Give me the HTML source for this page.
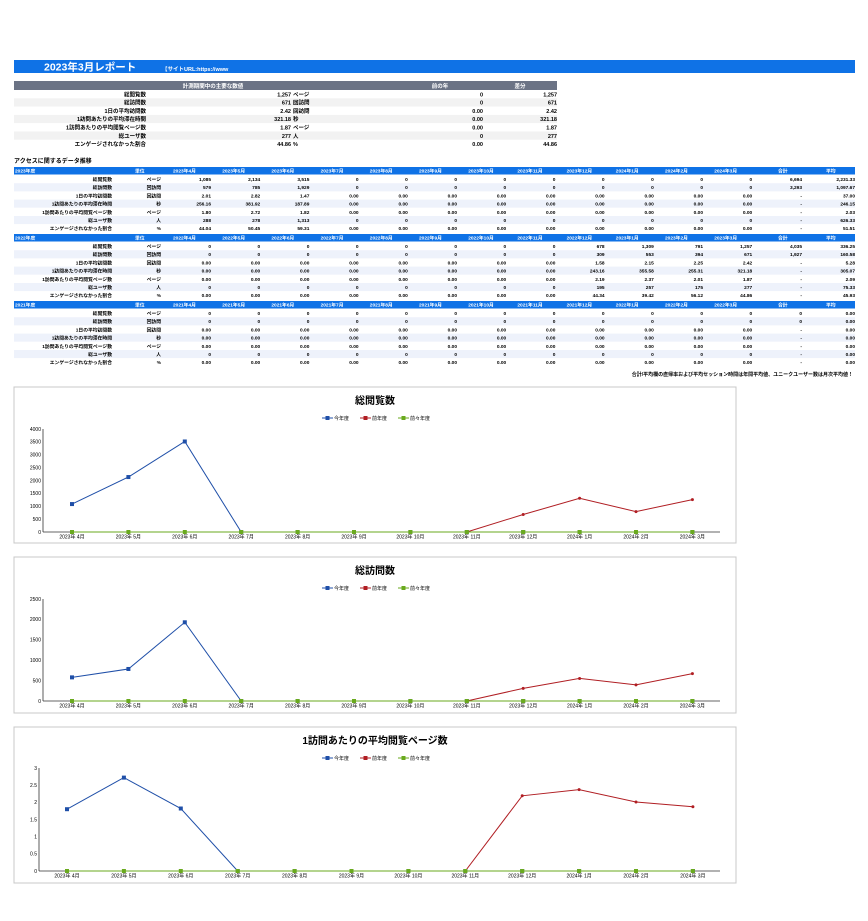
<!DOCTYPE html>
<html><head><meta charset="utf-8">
<style>
html,body{margin:0;padding:0;background:#fff;}
svg{display:block;font-family:"Liberation Sans","Noto Sans CJK JP",sans-serif;}
</style></head>
<body>
<svg id="root" width="868" height="921" viewBox="0 0 868 921" xmlns="http://www.w3.org/2000/svg">
  <rect x="14" y="60" width="841" height="13" fill="#0f72e6"/>
  <text x="44" y="70.5" font-size="10.5" font-weight="bold" fill="#fff">2023年3月レポート</text>
  <text x="162" y="71" font-size="5.5" font-weight="bold" fill="#fff">【サイトURL:https://www</text>
  <g id="summary"></g>
  <text x="14" y="163" font-size="6" font-weight="bold" fill="#000">アクセスに関するデータ推移</text>
  <g id="blocks"></g>
  <text x="853" y="376" font-size="5" font-weight="bold" text-anchor="end" fill="#000">合計/平均欄の直帰率および平均セッション時間は年間平均値、ユニークユーザー数は月次平均値！</text>
  <g id="charts"></g>
</svg>
<script>
// ---------- data ----------
const summaryLabels = ["総閲覧数","総訪問数","1日の平均訪問数","1訪問あたりの平均滞在時間","1訪問あたりの平均閲覧ページ数","総ユーザ数","エンゲージされなかった割合"];
const summaryValues = ["1,257","671","2.42","321.18","1.87","277","44.86"];
const summaryUnits = ["ページ","回訪問","回訪問","秒","ページ","人","%"];
const summaryPrev = ["0","0","0.00","0.00","0.00","0","0.00"];
const summaryDiff = ["1,257","671","2.42","321.18","1.87","277","44.86"];

const rowLabels = summaryLabels;
const rowUnits = ["ページ","回訪問","回訪問","秒","ページ","人","%"];
const blockYears = ["2023年度","2022年度","2021年度"];
const blockStartYear = [2023,2022,2021];
const block1 = [
 ["1,085","2,134","3,515","0","0","0","0","0","0","0","0","0","6,694","2,231.33"],
 ["579","785","1,929","0","0","0","0","0","0","0","0","0","3,293","1,097.67"],
 ["2.01","2.82","1.47","0.00","0.00","0.00","0.00","0.00","0.00","0.00","0.00","0.00","-","37.00"],
 ["256.16","381.92","187.89","0.00","0.00","0.00","0.00","0.00","0.00","0.00","0.00","0.00","-","246.15"],
 ["1.80","2.72","1.82","0.00","0.00","0.00","0.00","0.00","0.00","0.00","0.00","0.00","-","2.03"],
 ["288","278","1,313","0","0","0","0","0","0","0","0","0","-","626.33"],
 ["44.04","50.45","59.31","0.00","0.00","0.00","0.00","0.00","0.00","0.00","0.00","0.00","-","51.51"]];
const block2 = [
 ["0","0","0","0","0","0","0","0","678","1,309","791","1,257","4,035","336.25"],
 ["0","0","0","0","0","0","0","0","309","553","394","671","1,927","160.58"],
 ["0.00","0.00","0.00","0.00","0.00","0.00","0.00","0.00","1.58","2.15","2.25","2.42","-","5.28"],
 ["0.00","0.00","0.00","0.00","0.00","0.00","0.00","0.00","243.16","355.58","255.31","321.18","-","305.07"],
 ["0.00","0.00","0.00","0.00","0.00","0.00","0.00","0.00","2.19","2.37","2.01","1.87","-","2.09"],
 ["0","0","0","0","0","0","0","0","195","257","175","277","-","75.33"],
 ["0.00","0.00","0.00","0.00","0.00","0.00","0.00","0.00","44.34","39.42","56.12","44.86","-","45.93"]];
const block3 = [
 ["0","0","0","0","0","0","0","0","0","0","0","0","0","0.00"],
 ["0","0","0","0","0","0","0","0","0","0","0","0","0","0.00"],
 ["0.00","0.00","0.00","0.00","0.00","0.00","0.00","0.00","0.00","0.00","0.00","0.00","-","0.00"],
 ["0.00","0.00","0.00","0.00","0.00","0.00","0.00","0.00","0.00","0.00","0.00","0.00","-","0.00"],
 ["0.00","0.00","0.00","0.00","0.00","0.00","0.00","0.00","0.00","0.00","0.00","0.00","-","0.00"],
 ["0","0","0","0","0","0","0","0","0","0","0","0","-","0.00"],
 ["0.00","0.00","0.00","0.00","0.00","0.00","0.00","0.00","0.00","0.00","0.00","0.00","-","0.00"]];

const categories = ["2023年4月","2023年5月","2023年6月","2023年7月","2023年8月","2023年9月","2023年10月","2023年11月","2023年12月","2024年1月","2024年2月","2024年3月"];
const seriesNames = ["今年度","前年度","前々年度"];
const pvThis = [1085,2134,3515,0,0,0,0,0,0,0,0,0];
const pvPrev = [0,0,0,0,0,0,0,0,678,1309,791,1257];
const pvPrev2 = [0,0,0,0,0,0,0,0,0,0,0,0];
const pvTicks = [0,500,1000,1500,2000,2500,3000,3500,4000];
const visThis = [579,785,1929,0,0,0,0,0,0,0,0,0];
const visPrev = [0,0,0,0,0,0,0,0,309,553,394,671];
const visPrev2 = [0,0,0,0,0,0,0,0,0,0,0,0];
const visTicks = [0,500,1000,1500,2000,2500];
const ppvThis = [1.80,2.72,1.82,0,0,0,0,0,0,0,0,0];
const ppvPrev = [0,0,0,0,0,0,0,0,2.19,2.37,2.01,1.87];
const ppvPrev2 = [0,0,0,0,0,0,0,0,0,0,0,0];
const ppvTicks = [0,0.5,1,1.5,2,2.5,3];

// ---------- helpers ----------
const NS="http://www.w3.org/2000/svg";
function mk(tag,attrs,parent,txt){const e=document.createElementNS(NS,tag);for(const k in attrs)e.setAttribute(k,attrs[k]);if(txt!==undefined)e.textContent=txt;parent.appendChild(e);return e;}

// ---------- summary table ----------
const sm=document.getElementById('summary');
let r=mk('rect',{x:14,y:81,width:543,height:9,fill:'#6b7385'},sm);


[["計測期間中の主要な数値",213],["前の年",440],["差分",520]].forEach(h=>{
  const t=mk('text',{x:h[1],y:88,'font-size':5.5,'font-weight':'bold',fill:'#fff','text-anchor':'middle'},sm,h[0]);
  
  
});
summaryLabels.forEach((lab,i)=>{
  const y=90+i*8.3;
  const bg=mk('rect',{x:14,y:y,width:543,height:8.3,fill:i%2?'#f2f2f2':'#fff'},sm);
  
  
  const ty=y+6.3;
  const a={'font-size':5.5,'font-weight':'bold',fill:'#000'};
  let t=mk('text',Object.assign({x:146,y:ty,'text-anchor':'end'},a),sm,lab);
  
  
  t=mk('text',Object.assign({x:291,y:ty,'text-anchor':'end'},a),sm,summaryValues[i]);
  
  
  t=mk('text',Object.assign({x:293,y:ty},a),sm,summaryUnits[i]);
  
  
  t=mk('text',Object.assign({x:483,y:ty,'text-anchor':'end'},a),sm,summaryPrev[i]);
  
  
  t=mk('text',Object.assign({x:557,y:ty,'text-anchor':'end'},a),sm,summaryDiff[i]);
  
  
});

// ---------- trend blocks ----------
const bl=document.getElementById('blocks');
const blocksData=[block1,block2,block3];
const blockTop=[167,234,301];
const colRight=i=> i<12 ? 211+i*49.2 : (i===12?802:855);
blocksData.forEach((data,b)=>{
  const top=blockTop[b];
  const g=mk('g',{},bl);
  
  
  const hr=mk('rect',{x:14,y:top,width:841,height:7.5,fill:'#0f72e6'},g);
  
  
  const ha={'font-size':4.8,'font-weight':'bold',fill:'#fff'};
  let t=mk('text',Object.assign({x:15,y:top+5.6},ha),g,blockYears[b]);
  
  
  t=mk('text',Object.assign({x:135,y:top+5.6},ha),g,"単位");
  
  
  for(let m=0;m<12;m++){
    const yr=blockStartYear[b]+(m>=9?1:0);const mo=((m+3)%12)+1;
    t=mk('text',Object.assign({x:173+m*49.2,y:top+5.6},ha),g,yr+"年"+mo+"月");
    
    
  }
  t=mk('text',Object.assign({x:778,y:top+5.6},ha),g,"合計");
  
  
  t=mk('text',Object.assign({x:826,y:top+5.6},ha),g,"平均");
  
  
  data.forEach((row,i)=>{
    const y=top+8+i*8.2;
    const rr=mk('rect',{x:14,y:y,width:841,height:8.2,fill:i%2?'#eef2fb':'#fff'},g);
    
    
    const ty=y+6;
    const a={'font-size':4.8,'font-weight':'bold',fill:'#000'};
    let tt=mk('text',Object.assign({x:112,y:ty,'text-anchor':'end'},a),g,rowLabels[i]);
    
    
    tt=mk('text',Object.assign({x:161,y:ty,'text-anchor':'end'},a),g,rowUnits[i]);
    
    
    row.forEach((v,c)=>{
      const tv=mk('text',Object.assign({x:colRight(c),y:ty,'text-anchor':'end'},a),g,v);
      
      
    });
  });
});

// ---------- charts ----------
const ch=document.getElementById('charts');
const colors=["#1f4fa8","#b01e23","#6aaa1e"];
function drawChart(cfg){
  const g=mk('g',{},ch);
  
  
  const box=mk('rect',{x:14,y:cfg.boxY,width:722,height:156,fill:'#fff',stroke:'#c8c8c8','stroke-width':1},g);
  
  
  const ti=mk('text',{x:375,y:cfg.boxY+17,'font-size':10,'font-weight':'bold','text-anchor':'middle',fill:'#000'},g,cfg.title);
  
  
  // legend
  const lx=[322,360,398];
  seriesNames.forEach((s,k)=>{
    const ly=cfg.boxY+31;
    const lg=mk('g',{},g);
    
    
    mk('line',{x1:lx[k],y1:ly,x2:lx[k]+11,y2:ly,stroke:colors[k],'stroke-width':1},lg);
    mk('rect',{x:lx[k]+3.5,y:ly-2,width:4,height:4,fill:colors[k]},lg);
    mk('text',{x:lx[k]+12,y:ly+2,'font-size':5,fill:'#000'},lg,s);
  });
  const ymax=cfg.ticks[cfg.ticks.length-1];
  const Y=v=>cfg.y0-(v/ymax)*(cfg.y0-cfg.yTop);
  const X=i=>cfg.x0+i*cfg.dx;
  cfg.ticks.forEach(tv=>{
    const t=mk('text',{x:cfg.axisX-2,y:Y(tv)+1.8,'font-size':5,'text-anchor':'end',fill:'#000'},g,String(tv));
    
    
  });
  const ya=mk('line',{x1:cfg.axisX,y1:cfg.yTop,x2:cfg.axisX,y2:cfg.y0,stroke:'#333','stroke-width':0.8},g);
  
  
  const xa=mk('line',{x1:cfg.axisX,y1:cfg.y0,x2:720,y2:cfg.y0,stroke:'#333','stroke-width':0.8},g);
  
  
  categories.forEach((c,i)=>{
    const t=mk('text',{x:X(i),y:cfg.y0+6.5,'font-size':5,'text-anchor':'middle',fill:'#000'},g,c.replace('年','年 '));
    
    
  });
  cfg.series.forEach((vals,k)=>{
    const pts=vals.map((v,i)=>X(i).toFixed(1)+','+Y(v).toFixed(1)).join(' ');
    const pl=mk('polyline',{points:pts,fill:'none',stroke:colors[k],'stroke-width':1},g);
    
    
    vals.forEach((v,i)=>{
      let m;
      if(k===1) m=mk('circle',{cx:X(i),cy:Y(v),r:1.5,fill:colors[k]},g);
      else m=mk('rect',{x:X(i)-2,y:Y(v)-2,width:4,height:4,fill:colors[k]},g);
      
      
    });
  });
}
drawChart({name:'chart-total-pageviews',title:'総閲覧数',boxY:387,axisX:43,x0:72,dx:56.4,yTop:429,y0:532,ticks:pvTicks,series:[pvThis,pvPrev,pvPrev2]});
drawChart({name:'chart-total-visits',title:'総訪問数',boxY:557,axisX:43,x0:72,dx:56.4,yTop:599,y0:701,ticks:visTicks,series:[visThis,visPrev,visPrev2]});
drawChart({name:'chart-pages-per-visit',title:'1訪問あたりの平均閲覧ページ数',boxY:727,axisX:39,x0:67,dx:56.9,yTop:768,y0:871,ticks:ppvTicks,series:[ppvThis,ppvPrev,ppvPrev2]});
</script>
</body></html>
